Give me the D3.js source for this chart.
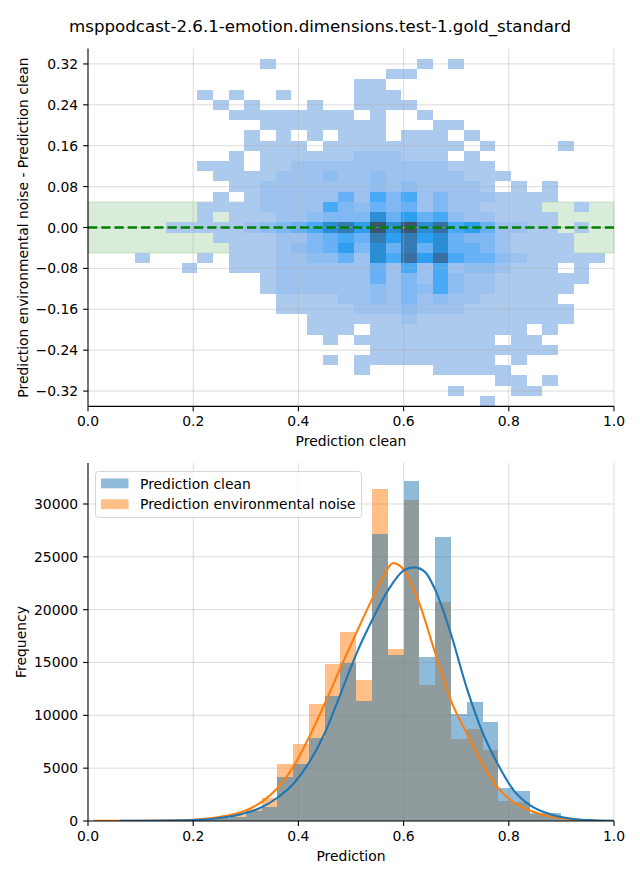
<!DOCTYPE html>
<html><head><meta charset="utf-8">
<script src="https://cdn.jsdelivr.net/npm/d3@7"></script>
<style>body{margin:0;background:#fff} svg{display:block} text{font-family:"DejaVu Sans",sans-serif;fill:#000}</style>
</head><body><svg id="chart" width="640" height="880"></svg>
<script>
// ---------------- DATA ----------------
const titleText = "msppodcast-2.6.1-emotion.dimensions.test-1.gold_standard";

// 2D histogram: bin edges (data units)
const heatXStart = 0.0887, heatXWidth = 0.02981, heatNX = 30;
const heatYStart = -0.3493, heatYHeight = 0.01997, heatNY = 34;
// count level per cell, rows listed from top (highest y) to bottom; "." = empty
const heatRows = [
  "........1.........1.1.........",
  "................11............",
  "..............11..............",
  "....1.1..1....111.............",
  ".....1.1...1..1111............",
  "......11111111.1..1...........",
  "........11111111...11.........",
  ".......1.1.1.111.111.1........",
  ".......1111.111111111.1....1..",
  "......1.111111222111.1........",
  "....111.112222222222111.......",
  ".....1111222322322222111......",
  "......11222222232322221.1.1...",
  ".....1.12222252646242221111...",
  "....1111222264354524221111..1.",
  "....1.111223444857563221111...",
  "..1111123456897b8b8a6752211.1.",
  ".....11112245659797854421111..",
  "......1112345748595855421111..",
  "1...1.11122335286a7a6553211111",
  "...1..111222222526262332111.1.",
  "........122222252426322111111.",
  "........12222223243632211111..",
  ".........111122324232211111...",
  ".........1111122232221111111..",
  "...........11111121111111111..",
  "...........111.1111111111.1...",
  "............1.111111111.11....",
  "...............111111111111...",
  "............1.111111111.1.....",
  "..............1....11111......",
  ".......................11.1...",
  "....................1...11....",
  "......................1......."
];
// approximate count represented by each level (index = level)
const levelCounts = [0, 40, 460, 810, 1150, 1570, 2060, 2690, 3660, 4770, 5330, 7000];

// 1D histograms
const histStart = 0.0, histWidth = 0.03;
const cleanCounts = [0, 0, 30, 30, 30, 40, 60, 120, 250, 420, 900, 1330, 4160, 5390, 7860, 11830, 14950, 11360, 27160, 15710, 32180, 15520, 26880, 10130, 11260, 9370, 3120, 2840, 760, 760, 200, 80, 30];
const noiseCounts = [25, 25, 40, 40, 40, 40, 70, 150, 300, 570, 1150, 2180, 5390, 7290, 11070, 14860, 17890, 13340, 31420, 16280, 30380, 12870, 20730, 7760, 8710, 6720, 1890, 1800, 660, 380, 120, 50, 20];

// KDE curves
const kdeCleanX = [0.06, 0.10, 0.15, 0.20, 0.24, 0.27, 0.30, 0.33, 0.36, 0.39, 0.42, 0.45, 0.48, 0.51, 0.54, 0.57, 0.60, 0.62, 0.64, 0.66, 0.69, 0.72, 0.75, 0.78, 0.81, 0.84, 0.88, 0.92, 0.96, 1.0];
const kdeCleanY = [10, 20, 40, 90, 220, 420, 750, 1300, 2200, 3500, 5500, 8300, 12000, 15800, 19000, 21800, 23700, 24000, 23600, 21900, 17700, 12600, 8400, 5300, 2850, 1500, 620, 220, 70, 20];
const kdeNoiseX = [0.01, 0.05, 0.10, 0.15, 0.20, 0.24, 0.27, 0.30, 0.33, 0.36, 0.39, 0.42, 0.45, 0.48, 0.51, 0.54, 0.56, 0.58, 0.60, 0.63, 0.66, 0.69, 0.72, 0.75, 0.78, 0.81, 0.84, 0.88, 0.92, 0.96, 1.0];
const kdeNoiseY = [10, 15, 25, 50, 120, 300, 560, 1000, 1800, 3100, 5100, 7900, 11100, 14500, 17800, 21000, 23000, 24400, 23800, 20600, 15900, 11400, 8300, 5400, 3100, 1750, 1000, 420, 140, 40, 10];

const xTicks = [0, 0.2, 0.4, 0.6, 0.8, 1.0];
const yTicksTop = [-0.32, -0.24, -0.16, -0.08, 0, 0.08, 0.16, 0.24, 0.32];
const yTicksBottom = [0, 5000, 10000, 15000, 20000, 25000, 30000];
const bandHalf = 0.05;
const seriesNames = ["Prediction clean", "Prediction environmental noise"];

// ---------------- HUSL colormap (seaborn-style) ----------------
const Mx = [[3.2406,-1.5372,-0.4986],[-0.9689,1.8758,0.0415],[0.0557,-0.2040,1.0570]];
const Minv = [[0.4124,0.3576,0.1805],[0.2126,0.7152,0.0722],[0.0193,0.1192,0.9505]];
const refU = 0.19784, refV = 0.46834, labE = 0.008856, labK = 903.3;
function maxChroma(L, H) {
  const hr = H * Math.PI / 180, sinH = Math.sin(hr), cosH = Math.cos(hr);
  const sub1 = Math.pow(L + 16, 3) / 1560896, sub2 = sub1 > labE ? sub1 : L / labK;
  let res = Infinity;
  for (const [m1, m2, m3] of Mx) {
    const top = (0.99915*m1 + 1.05122*m2 + 1.14460*m3) * sub2;
    const rb = 0.86330*m3 - 0.17266*m2, lb = 0.12949*m3 - 0.38848*m1;
    const bottom = (rb*sinH + lb*cosH) * sub2;
    for (const t of [0, 1]) {
      const C = L * (top - 1.05122*t) / (bottom + 0.17266*sinH*t);
      if (C > 0 && C < res) res = C;
    }
  }
  return res;
}
const fInv = t => Math.pow(t,3) > labE ? Math.pow(t,3) : (116*t - 16) / labK;
const fFwd = t => t > labE ? Math.cbrt(t) : 7.787*t + 16/116;
const fromLin = c => c <= 0.0031308 ? 12.92*c : 1.055*Math.pow(c, 1/2.4) - 0.055;
const toLin = c => c > 0.04045 ? Math.pow((c + 0.055)/1.055, 2.4) : c/12.92;
function huslToRgb(h, s, l) {
  if (l > 99.9999) return [1,1,1];
  if (l < 1e-8) return [0,0,0];
  const C = maxChroma(l, h) / 100 * s, hr = h*Math.PI/180;
  const U = C*Math.cos(hr), V = C*Math.sin(hr);
  const varY = fInv((l + 16)/116), varU = U/(13*l) + refU, varV = V/(13*l) + refV;
  const Y = varY, X = -(9*Y*varU) / ((varU - 4)*varV - varU*varV);
  const Z = (9*Y - 15*varV*Y - varV*X) / (3*varV);
  return Mx.map(r => Math.min(1, Math.max(0, fromLin(r[0]*X + r[1]*Y + r[2]*Z))));
}
function rgbToHusl(r, g, b) {
  const lin = [r, g, b].map(toLin);
  const [X, Y, Z] = Minv.map(row => row[0]*lin[0] + row[1]*lin[1] + row[2]*lin[2]);
  const d = X + 15*Y + 3*Z, vU = 4*X/d, vV = 9*Y/d;
  const L = 116*fFwd(Y) - 16, U = 13*L*(vU - refU), V = 13*L*(vV - refV);
  const C = Math.hypot(U, V);
  let H = Math.atan2(V, U)*180/Math.PI; if (H < 0) H += 360;
  return [H, C / maxChroma(L, H) * 100, L];
}
const base = d3.rgb("#1f77b4");
const [bh, bs] = rgbToHusl(base.r/255, base.g/255, base.b/255);
const nLin = Math.floor(1.15*256);
const ramp = d3.range(256).map(i => {
  const xx = -1 + 2*i/(nLin - 1);
  return huslToRgb(bh, bs*Math.cos(xx), 35 + 45*i/255);
});
const cmap = ramp.slice().reverse().map(c => d3.rgb(c[0]*255, c[1]*255, c[2]*255).formatHex());

// ---------------- LAYOUT ----------------
const svg = d3.select("#chart");
const L = 88, R = 614;
const top1 = 48.6, bot1 = 406.4, top2 = 463, bot2 = 821;
const gridCol = "#b0b0b0";

svg.append("text").attr("x", 320).attr("y", 32).attr("text-anchor", "middle")
  .style("font-size", "16.67px").text(titleText);

function axesDecor(g, x, y, xt, yt, yfmt, xlab, ylab, ylabX) {
  g.append("line").attr("x1", L).attr("x2", L).attr("y1", y.range()[0]).attr("y2", y.range()[1]).attr("stroke", "#000").attr("stroke-width", 1.1);
  g.append("line").attr("x1", L).attr("x2", R).attr("y1", y.range()[0]).attr("y2", y.range()[0]).attr("stroke", "#000").attr("stroke-width", 1.1);
  const yb = y.range()[0];
  xt.forEach(v => {
    g.append("line").attr("x1", x(v)).attr("x2", x(v)).attr("y1", yb).attr("y2", yb + 4.9).attr("stroke", "#000").attr("stroke-width", 1.1);
    g.append("text").attr("x", x(v)).attr("y", yb + 19.8).attr("text-anchor", "middle").style("font-size", "13.9px").text(d3.format(".1f")(v));
  });
  yt.forEach(v => {
    g.append("line").attr("x1", L - 4.9).attr("x2", L).attr("y1", y(v)).attr("y2", y(v)).attr("stroke", "#000").attr("stroke-width", 1.1);
    g.append("text").attr("x", L - 9.8).attr("y", y(v) + 5).attr("text-anchor", "end").style("font-size", "13.9px").text(yfmt(v));
  });
  g.append("text").attr("x", (L + R)/2).attr("y", yb + 40).attr("text-anchor", "middle").style("font-size", "13.9px").text(xlab);
  const yc = (y.range()[0] + y.range()[1]) / 2;
  g.append("text").attr("transform", `translate(${ylabX},${yc}) rotate(-90)`).attr("text-anchor", "middle").style("font-size", "13.9px").text(ylab);
}
function grid(g, x, y, xt, yt) {
  xt.forEach(v => g.append("line").attr("x1", x(v)).attr("x2", x(v)).attr("y1", y.range()[0]).attr("y2", y.range()[1]).attr("stroke", gridCol).attr("stroke-opacity", 0.45).attr("stroke-width", 1));
  yt.forEach(v => g.append("line").attr("x1", L).attr("x2", R).attr("y1", y(v)).attr("y2", y(v)).attr("stroke", gridCol).attr("stroke-opacity", 0.45).attr("stroke-width", 1));
}
const minus = s => s.replace("-", "\u2212");

// ---------------- TOP PANEL ----------------
const x1 = d3.scaleLinear().domain([0, 1]).range([L, R]);
const y1 = d3.scaleLinear().domain([-0.35, 0.35]).range([bot1, top1]);
const g1 = svg.append("g");
g1.append("rect").attr("x", L).attr("width", R - L).attr("y", y1(bandHalf)).attr("height", y1(-bandHalf) - y1(bandHalf))
  .attr("fill", "green").attr("fill-opacity", 0.15).attr("stroke", "green").attr("stroke-opacity", 0.15);

const cells = [];
heatRows.forEach((row, r) => {
  row.split("").forEach((ch, c) => {
    if (ch === ".") return;
    const lvl = parseInt(ch, 16);
    cells.push({ x0: heatXStart + c*heatXWidth, y0: heatYStart + (heatNY - 1 - r)*heatYHeight, count: levelCounts[lvl] });
  });
});
const cMin = d3.min(cells, d => d.count), cMax = d3.max(cells, d => d.count);
const colorOf = v => cmap[Math.min(255, Math.floor((v - cMin)/(cMax - cMin)*256))];
g1.append("g").selectAll("rect").data(cells).join("rect")
  .attr("x", d => x1(d.x0)).attr("width", d => x1(d.x0 + heatXWidth) - x1(d.x0))
  .attr("y", d => y1(d.y0 + heatYHeight)).attr("height", d => y1(d.y0) - y1(d.y0 + heatYHeight))
  .attr("fill", d => colorOf(d.count)).attr("shape-rendering", "crispEdges");
grid(g1, x1, y1, xTicks.slice(1), yTicksTop);
g1.append("line").attr("x1", L).attr("x2", R).attr("y1", y1(0)).attr("y2", y1(0))
  .attr("stroke", "green").attr("stroke-width", 2.5).attr("stroke-dasharray", "9.25,4");
axesDecor(g1, x1, y1, xTicks, yTicksTop, v => minus(d3.format(".2f")(v)), "Prediction clean", "Prediction environmental noise - Prediction clean", 28);

// ---------------- BOTTOM PANEL ----------------
const x2 = d3.scaleLinear().domain([0, 1]).range([L, R]);
const y2 = d3.scaleLinear().domain([0, 33880]).range([bot2, top2]);
const g2 = svg.append("g");
svg.append("defs").append("clipPath").attr("id", "clip2").append("rect").attr("x", L).attr("y", top2).attr("width", R - L).attr("height", bot2 - top2);
grid(g2, x2, y2, xTicks.slice(1), yTicksBottom.slice(1));
const bars = (arr, color) => g2.append("g").attr("fill", color).attr("fill-opacity", 0.5).selectAll("rect").data(arr).join("rect")
  .attr("x", (d, i) => x2(histStart + i*histWidth)).attr("width", (d, i) => x2(histStart + (i + 1)*histWidth) - x2(histStart + i*histWidth))
  .attr("y", d => y2(d)).attr("height", d => y2(0) - y2(d)).attr("shape-rendering", "crispEdges");
bars(noiseCounts, "#ff7f0e");
bars(cleanCounts, "#1f77b4");
const line = d3.line().curve(d3.curveMonotoneX);
const gl = g2.append("g").attr("clip-path", "url(#clip2)");
gl.append("path").attr("d", line(kdeNoiseX.map((v, i) => [x2(v), y2(kdeNoiseY[i])]))).attr("fill", "none").attr("stroke", "#ff7f0e").attr("stroke-width", 2.1);
gl.append("path").attr("d", line(kdeCleanX.map((v, i) => [x2(v), y2(kdeCleanY[i])]))).attr("fill", "none").attr("stroke", "#1f77b4").attr("stroke-width", 2.1);
axesDecor(g2, x2, y2, xTicks, yTicksBottom, v => String(v), "Prediction", "Frequency", 26);

// legend
const lg = g2.append("g");
lg.append("rect").attr("x", 95.5).attr("y", 471.5).attr("width", 266).attr("height", 46).attr("rx", 3)
  .attr("fill", "#fff").attr("fill-opacity", 0.8).attr("stroke", "#cccccc").attr("stroke-opacity", 0.8);
[["#1f77b4", seriesNames[0]], ["#ff7f0e", seriesNames[1]]].forEach(([c, n], i) => {
  lg.append("rect").attr("x", 101).attr("y", 478.5 + i*20.8).attr("width", 27.5).attr("height", 9.8).attr("fill", c).attr("fill-opacity", 0.5);
  lg.append("text").attr("x", 140).attr("y", 488.5 + i*20.8).style("font-size", "13.9px").text(n);
});
</script></body></html>
